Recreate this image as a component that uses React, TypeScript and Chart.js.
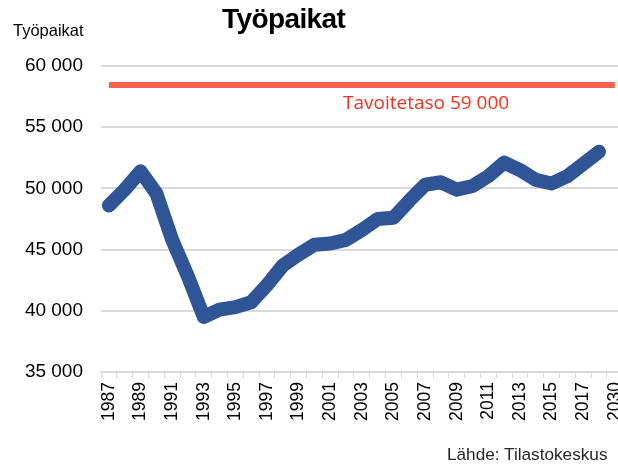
import React, { useEffect, useRef } from "react";
import { Chart, registerables } from "chart.js";

Chart.register(...registerables);

const categories = [
  "1987", "1988", "1989", "1990", "1991", "1992", "1993", "1994", "1995", "1996",
  "1997", "1998", "1999", "2000", "2001", "2002", "2003", "2004", "2005", "2006",
  "2007", "2008", "2009", "2010", "2011", "2012", "2013", "2014", "2015", "2016",
  "2017", "2018", "2030",
];

const jobs: (number | null)[] = [
  48600, 49900, 51400, 49600, 45800, 42800, 39500, 40100, 40300, 40700,
  42100, 43700, 44600, 45400, 45500, 45800, 46600, 47500, 47600, 49000,
  50300, 50500, 49900, 50200, 51000, 52100, 51500, 50700, 50400, 51000,
  52000, 53000, null,
];

const targetValue = 58450;
const target = categories.map(() => targetValue);

const yTicks = [35000, 40000, 45000, 50000, 55000, 60000];
const title = "Työpaikat";
const yTitle = "Työpaikat";
const targetLabel = "Tavoitetaso 59 000";
const source = "Lähde: Tilastokeskus";

const fmt = (v: number) => {
  const s = String(Math.round(v));
  return s.replace(/\B(?=(\d{3})+(?!\d))/g, " ");
};

const W = 640;
const H = 468;

export default function App() {
  const ref = useRef<HTMLCanvasElement | null>(null);

  useEffect(() => {
    if (!ref.current) return;
    const chart = new Chart(ref.current, {
      type: "line",
      data: {
        labels: categories,
        datasets: [
          {
            label: "Tavoite",
            data: target,
            borderColor: "#F8624F",
            borderWidth: 6,
            pointRadius: 0,
            tension: 0,
            borderCapStyle: "butt",
          },
          {
            label: "Työpaikat",
            data: jobs,
            borderColor: "#2F5597",
            borderWidth: 14,
            pointRadius: 0,
            tension: 0,
            borderCapStyle: "round",
            borderJoinStyle: "round",
            spanGaps: false,
          },
        ],
      },
      options: {
        animation: false,
        responsive: false,
        maintainAspectRatio: false,
        layout: { padding: { top: 66, left: 0, right: 10, bottom: 0 } },
        plugins: {
          legend: { display: false },
          title: { display: false },
          tooltip: { enabled: false },
        },
        scales: {
          x: {
            type: "category",
            offset: true,
            grid: {
              display: true,
              offset: true,
              drawOnChartArea: false,
              drawTicks: true,
              tickLength: 6,
              color: "#D9D9D9",
              lineWidth: 1,
            },
            border: { display: true, color: "#D9D9D9", width: 2 },
            ticks: {
              autoSkip: false,
              maxRotation: 90,
              minRotation: 90,
              padding: 4,
              color: "#000000",
              font: { family: "'Liberation Sans', Arial, sans-serif", size: 17.5 },
              callback: (_v: any, i: number) => (i % 2 === 0 ? categories[i] : ""),
            },
            afterFit: (scale: any) => {
              scale.height = H - 372;
            },
          },
          y: {
            min: 35000,
            max: 60000,
            afterBuildTicks: (scale: any) => {
              scale.ticks = yTicks.map((v) => ({ value: v }));
            },
            grid: {
              color: "#D9D9D9",
              lineWidth: 2,
              drawTicks: false,
            },
            border: { display: false },
            ticks: {
              padding: 18,
              color: "#000000",
              font: { family: "'Liberation Sans', Arial, sans-serif", size: 19 },
              callback: (v: any) => fmt(Number(v)),
            },
            afterFit: (scale: any) => {
              scale.width = 101;
            },
          },
        },
      },
    });
    return () => chart.destroy();
  }, []);

  const base: React.CSSProperties = {
    position: "absolute",
    whiteSpace: "nowrap",
    lineHeight: 1,
  };

  return (
    <div
      style={{
        position: "fixed",
        left: 0,
        top: 0,
        width: W,
        height: H,
        background: "#ffffff",
        overflow: "hidden",
      }}
    >
      <canvas ref={ref} width={W} height={H} style={{ display: "block" }} />
      <div
        style={{
          ...base,
          left: 222,
          top: 5,
          fontFamily: "'Liberation Sans', Arial, sans-serif",
          fontWeight: "bold",
          fontSize: 28,
          letterSpacing: -0.6,
          color: "#000",
        }}
      >
        {title}
      </div>
      <div
        style={{
          ...base,
          left: 13,
          top: 22,
          fontFamily: "'Liberation Sans', Arial, sans-serif",
          fontSize: 16.5,
          color: "#000",
        }}
      >
        {yTitle}
      </div>
      <div
        style={{
          ...base,
          left: 343,
          top: 93,
          fontFamily: "'Open Sans', sans-serif",
          fontSize: 19,
          color: "#F2331F",
        }}
      >
        {targetLabel}
      </div>
      <div
        style={{
          ...base,
          left: 447,
          top: 446,
          fontFamily: "'Liberation Sans', Arial, sans-serif",
          fontSize: 17.2,
          color: "#262626",
        }}
      >
        {source}
      </div>
    </div>
  );
}
